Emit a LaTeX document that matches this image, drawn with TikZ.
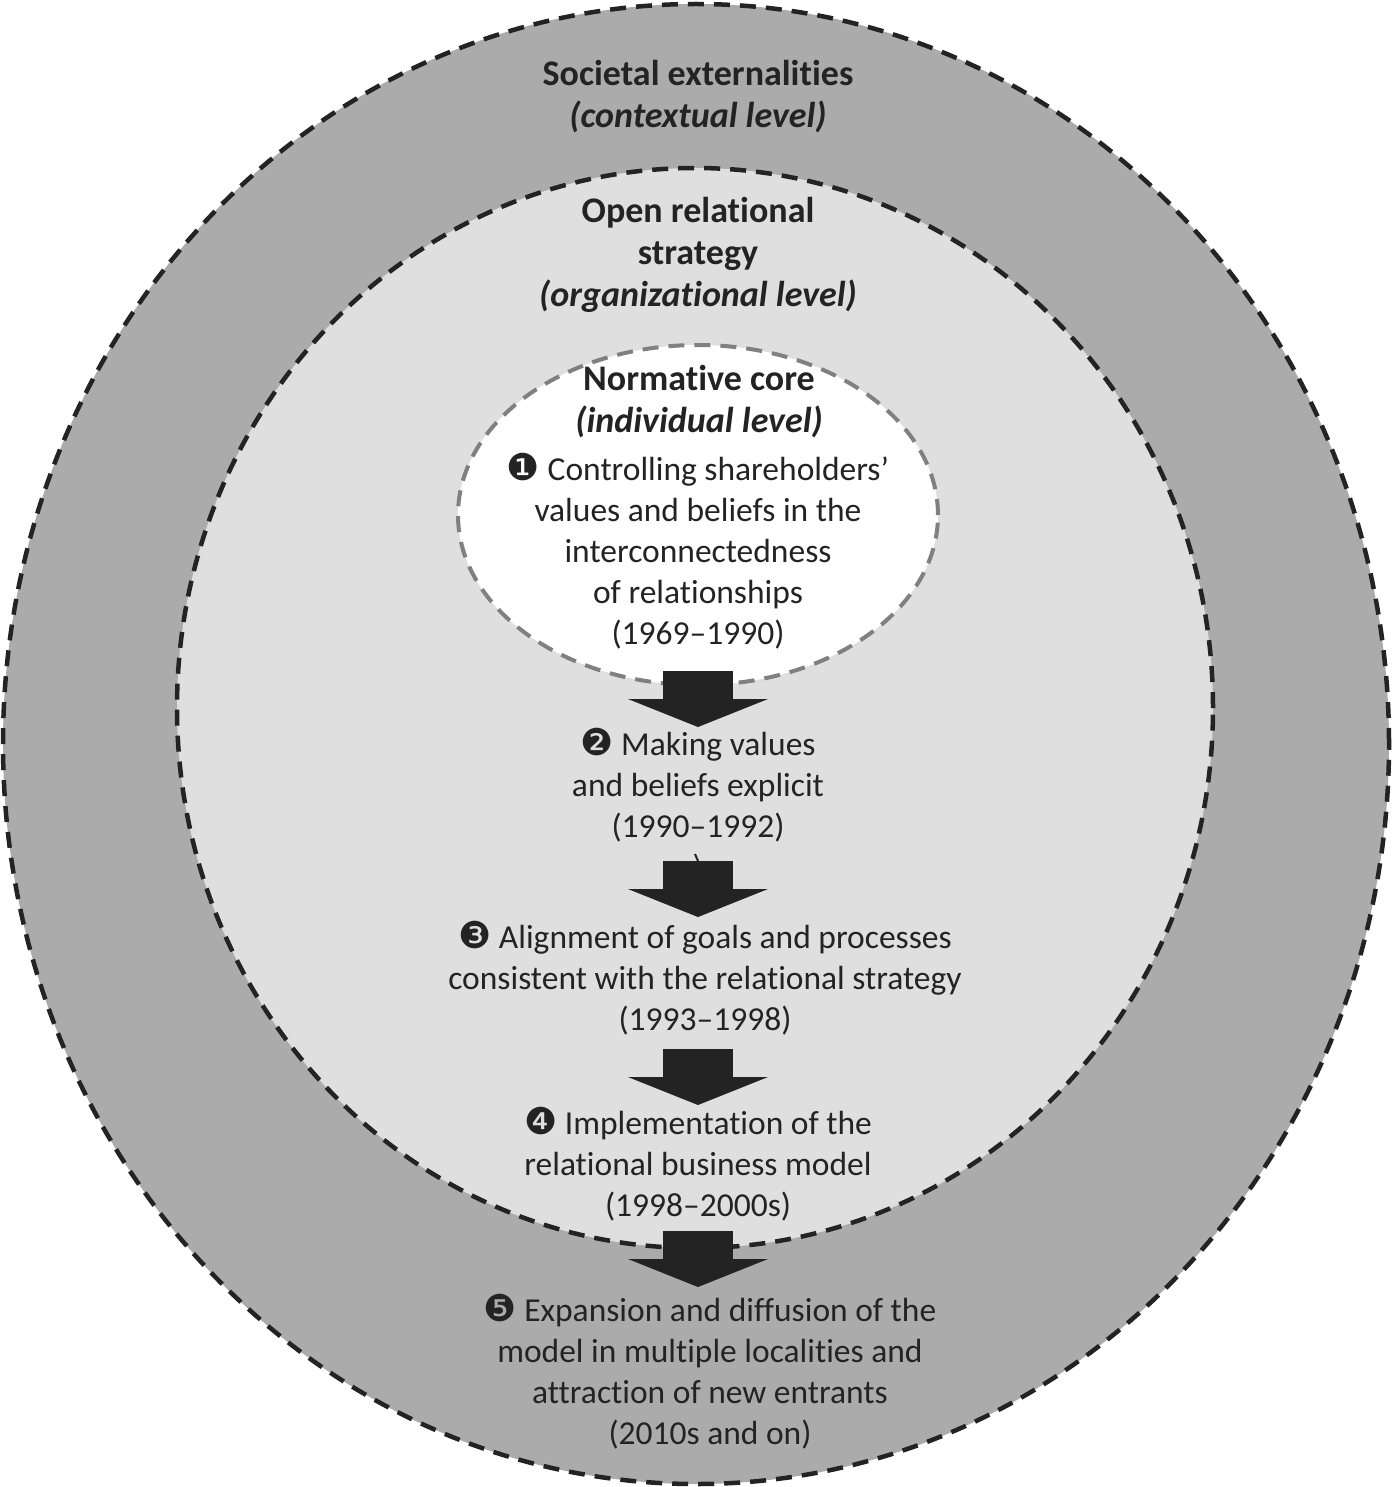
\documentclass[tikz,border=0pt]{standalone}
\usepackage{fontspec}
\setmainfont{Carlito}[RawFeature={-liga;-clig;-dlig}]
\newfontfamily\dingfont{DejaVu Sans}
\usetikzlibrary{arrows.meta}

\definecolor{ringdark}{HTML}{ABABAB}
\definecolor{ringlight}{HTML}{DFDFDF}
\definecolor{inkgray}{HTML}{232323}
\definecolor{coregray}{HTML}{808080}

\newcommand{\stepno}[1]{{\dingfont\fontsize{37}{41}\selectfont#1}}

\begin{document}
\begin{tikzpicture}[
  x=1pt,y=-1pt,
  ring/.style={draw=inkgray,line width=4.5pt,dash pattern=on 16pt off 10pt},
  corering/.style={draw=coregray,line width=4pt,dash pattern=on 16pt off 10pt},
  steptext/.style={align=center,text=inkgray,font=\fontsize{33.5}{41}\selectfont},
  leveltext/.style={align=center,text=inkgray,font=\bfseries\fontsize{36}{42}\selectfont},
  bigarrow/.style={draw=inkgray,line width=70pt,-{Triangle[length=28pt,width=140pt,line width=0pt,fill=inkgray]}}
]

\fill[white] (0,0) rectangle (1392,1487);
\useasboundingbox (0,0) rectangle (1392,1487);

\draw[ring,fill=ringdark] (696,744) ellipse [x radius=693pt, y radius=740pt];
\draw[ring,fill=ringlight] (695,708) ellipse [x radius=518pt, y radius=540pt];
\draw[corering,fill=white] (698,515) ellipse [x radius=240pt, y radius=170pt];

\node[leveltext] (societal) at (698,97) {Societal externalities\\\textit{(contextual level)}};
\node[leveltext] (strategy) at (698,255) {Open relational\\strategy\\\textit{(organizational level)}};
\node[leveltext] (core) at (699,402) {Normative core\\\textit{(individual level)}};

\node[steptext] (step1) at (698,551) {\stepno{❶} Controlling shareholders’\\values and beliefs in the\\interconnectedness\\of relationships\\(1969–1990)};
\node[steptext] (step2) at (698,785) {\stepno{❷} Making values\\and beliefs explicit\\(1990–1992)};
\node[steptext] (step3) at (705,978) {\stepno{❸} Alignment of goals and processes\\consistent with the relational strategy\\(1993–1998)};
\node[steptext] (step4) at (698,1164) {\stepno{❹} Implementation of the\\relational business model\\(1998–2000s)};
\node[steptext] (step5) at (710,1372) {\stepno{❺} Expansion and diffusion of the\\model in multiple localities and\\attraction of new entrants\\(2010s and on)};

\coordinate (a1) at (698,671);  \coordinate (b1) at (698,727);
\coordinate (a2) at (698,861);  \coordinate (b2) at (698,917);
\coordinate (a3) at (698,1049); \coordinate (b3) at (698,1105);
\coordinate (a4) at (698,1231); \coordinate (b4) at (698,1287);

\draw[bigarrow] (a1) -- (b1);
\draw[bigarrow] (a2) -- (b2);
\draw[bigarrow] (a3) -- (b3);
\draw[bigarrow] (a4) -- (b4);

\draw[inkgray,line width=2pt] (695,854) -- (698,861);

\end{tikzpicture}
\end{document}
